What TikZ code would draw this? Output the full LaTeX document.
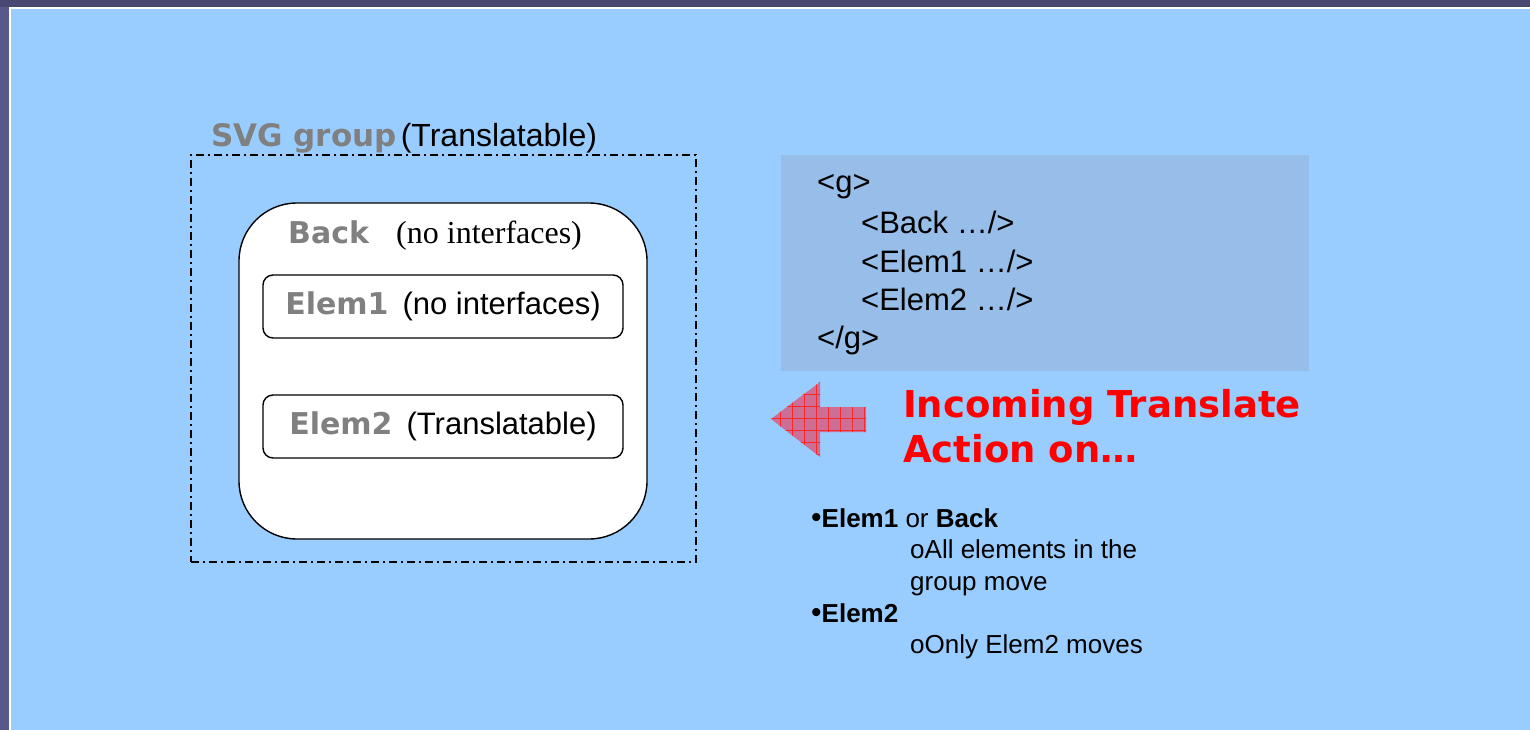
\documentclass[tikz,border=0pt]{standalone}
\usepackage{fontspec}
\setmainfont{Liberation Sans}
\newfontfamily\seriffont{Liberation Serif}
\newfontfamily\widefont{DejaVu Sans}
\usepackage{xcolor}
\definecolor{slidepurple}{RGB}{88, 88, 138}
\definecolor{slidetop}{RGB}{72, 72, 115}
\definecolor{slideblue}{RGB}{153, 204, 255}
\definecolor{codeblue}{RGB}{150, 190, 232}
\definecolor{labelgray}{RGB}{128, 128, 128}
\definecolor{arrowpink}{RGB}{205, 110, 150}
\usetikzlibrary{positioning,patterns.meta}
\newcommand{\pxsize}[1]{\fontsize{#1}{#1}\selectfont}
\newcommand{\graytag}[1]{{\widefont\bfseries\color{labelgray}#1}}

\begin{document}
\begin{tikzpicture}[x=1pt, y=-1pt,
    groupbox/.style={draw, line width=1.4pt, dash pattern=on 8pt off 4pt on 2pt off 4pt, minimum width=505pt, minimum height=407pt, inner sep=0pt},
    backbox/.style={draw, line width=1.4pt, fill=white, rounded corners=58pt, minimum width=408pt, minimum height=336pt, inner sep=0pt},
    elembox/.style={draw, line width=1.4pt, fill=white, rounded corners=10pt, minimum width=360pt, minimum height=63pt, inner sep=0pt, font=\pxsize{31}},
    lbl/.style={anchor=base west, inner sep=0pt},
    codeline/.style={lbl, font=\pxsize{31}},
    noteline/.style={lbl, font=\pxsize{26}}]
    \useasboundingbox (0,0) rectangle (1530,730);

    % Slide background
    \fill[slidepurple] (0,0) rectangle (1530,730);
    \fill[slidetop] (0,0) rectangle (1530,7);
    \draw[white, line width=2pt, fill=slideblue] (10,8) rectangle (1545,745);

    % SVG group
    \node[groupbox] (group) at (443.5,358.5) {};
    \node[lbl] (grouplabel) at (211,147) {\pxsize{32}\graytag{\pxsize{31}SVG group}\hspace{4pt}(Translatable)};

    % Back and its elements
    \node[backbox] (back) at (443,371) {};
    \node[lbl] (backlabel) at (288,243) {\pxsize{30}\graytag{Back}};
    \node[lbl] (backnote) at (396,243) {\pxsize{32}\seriffont (no interfaces)};

    \foreach \name/\y/\note in {Elem1/306.5/(no interfaces), Elem2/426.5/(Translatable)} {
        \node[elembox] (\name) at (443,\y) {\graytag{\pxsize{30}\name}\hspace{14pt}\note};
    }

    % SVG code
    \node[fill=codeblue, minimum width=528pt, minimum height=216pt, inner sep=0pt] (code) at (1045,263) {};
    \node[codeline] (codeg) at (817,193) {<g>};
    \node[codeline] (codeback) at (861,233) {<Back …/>};
    \node[codeline] (codeelem1) at (861,272) {<Elem1 …/>};
    \node[codeline] (codeelem2) at (861,310) {<Elem2 …/>};
    \node[codeline] (codeend) at (817,348) {</g>};

    % Incoming action
    \path[fill=arrowpink, postaction={pattern={Hatch[angle=0, distance=12pt, line width=0.9pt]}, pattern color=red!85!white}]
        (771,419) -- (820,382) -- (820,407) -- (866,407) -- (866,432) -- (820,432) -- (820,457) -- cycle;
    \node[lbl, font=\pxsize{37}\widefont\bfseries, text=red] (incoming) at (903,417) {Incoming Translate};
    \node[lbl, font=\pxsize{37}\widefont\bfseries, text=red] (action) at (903,462) {Action on…};

    % Notes
    \node[noteline] (note1) at (811,527) {{\pxsize{30}\textbullet}\textbf{Elem1} or \textbf{Back}};
    \node[noteline] (note1a) at (910,558) {oAll elements in the};
    \node[noteline] (note1b) at (910,590) {group move};
    \node[noteline] (note2) at (811,622) {{\pxsize{30}\textbullet}\textbf{Elem2}};
    \node[noteline] (note2a) at (910,653) {oOnly Elem2 moves};
\end{tikzpicture}
\end{document}
